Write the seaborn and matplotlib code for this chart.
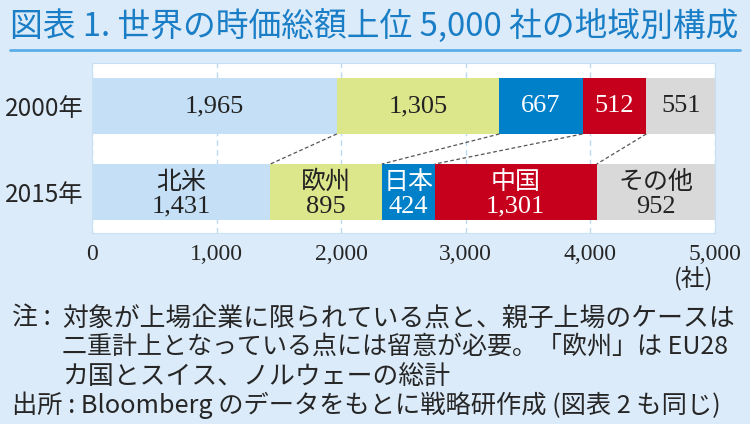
import numpy as np
import pandas as pd
import matplotlib
matplotlib.use('Agg')
import matplotlib.pyplot as plt
import seaborn as sns

# data
years = ['2000年', '2015年']
regions = ['北米', '欧州', '日本', '中国', 'その他']
counts_2000 = [1965, 1305, 667, 512, 551]
counts_2015 = [1431, 895, 424, 1301, 952]
region_colors = ['#c5e0f6', '#dce68b', '#0080c9', '#c6001c', '#d9d9d9']
label_colors = ['#222222', '#222222', 'white', 'white', '#222222']
xticks = [0, 1000, 2000, 3000, 4000, 5000]

title = '図表 1. 世界の時価総額上位 5,000 社の地域別構成'
notes = ['対象が上場企業に限られている点と、親子上場のケースは',
         '二重計上となっている点には留意が必要。「欧州」は EU28',
         'カ国とスイス、ノルウェーの総計']
source = '出所 : Bloomberg のデータをもとに戦略研作成 (図表 2 も同じ)'

sns.set_style('white')
plt.rcParams['font.family'] = ['Noto Sans CJK JP', 'DejaVu Sans']
bg = '#dcebf9'
serif = 'Liberation Serif'

fig = plt.figure(figsize=(7.5, 4.24), dpi=100, facecolor=bg)
W, H = 750, 424
ax = fig.add_axes([92 / W, 1 - 233 / H, (715 - 92) / W, (233 - 63) / H])
ax.set_facecolor('white')

df = pd.DataFrame({'year': years})
cum = np.array([np.cumsum(counts_2000), np.cumsum(counts_2015)])
bar_h = 0.65

# stacked bars: draw cumulative totals from the outermost segment inwards
for i in range(len(regions) - 1, -1, -1):
    df['x'] = cum[:, i]
    sns.barplot(data=df, x='x', y='year', color=region_colors[i], orient='y',
                width=bar_h, saturation=1, errorbar=None, linewidth=0, ax=ax)

# segment labels
raw = [counts_2000, counts_2015]
for r in range(2):
    starts = cum[r] - np.array(raw[r])
    for i in range(len(regions)):
        xc = starts[i] + raw[r][i] / 2
        if r == 0:
            ax.text(xc, r, f'{raw[r][i]:,}', ha='center', va='center',
                    fontsize=19, family=serif, color=label_colors[i])
        else:
            ax.text(xc, r - 0.12, regions[i], ha='center', va='center',
                    fontsize=18, color=label_colors[i])
            ax.text(xc, r + 0.17, f'{raw[r][i]:,}', ha='center', va='center',
                    fontsize=19, family=serif, color=label_colors[i])

# dashed connectors between segment boundaries
for i in range(len(regions) - 1):
    ax.plot([cum[0, i], cum[1, i]], [bar_h / 2, 1 - bar_h / 2],
            ls=(0, (3, 2)), color='#555555', lw=0.9)

ax.set_xlim(0, 5000)
ax.set_ylim(1.477, -0.5)
ax.set_xticks(xticks)
ax.set_xticklabels([f'{v:,}' for v in xticks], family=serif, fontsize=17)
ax.tick_params(axis='x', length=0, pad=8)
ax.tick_params(axis='y', length=0, pad=6, labelsize=17.5)
ax.set_xlabel('')
ax.set_ylabel('')
ax.set_axisbelow(True)
ax.xaxis.grid(True, ls=(0, (4, 3)), color='#bcd9f1', lw=1)
for s in ax.spines.values():
    s.set_color('#c8e0f4')

fig.text(713 / W, 1 - 278 / H, '(社)', ha='right', va='center', fontsize=17)

# title with underline
fig.text(10 / W, 1 - 27 / H, title, ha='left', va='center', fontsize=23.6,
         color='#1a7ec6')
fig.add_artist(plt.Line2D([10 / W, 740 / W], [1 - 50 / H, 1 - 50 / H],
                          color='#5caee8', lw=2))

# notes
note_sizes = [18.6, 18, 18.6]
fig.text(12 / W, 1 - 318 / H, '注 :', ha='left', va='center', fontsize=18.6)
for line, y, fs in zip(notes, [318, 347, 376], note_sizes):
    fig.text(62 / W, 1 - y / H, line, ha='left', va='center', fontsize=fs)
fig.text(12 / W, 1 - 405 / H, source, ha='left', va='center', fontsize=18.2)

fig.savefig('out.png', dpi=100, facecolor=bg)
